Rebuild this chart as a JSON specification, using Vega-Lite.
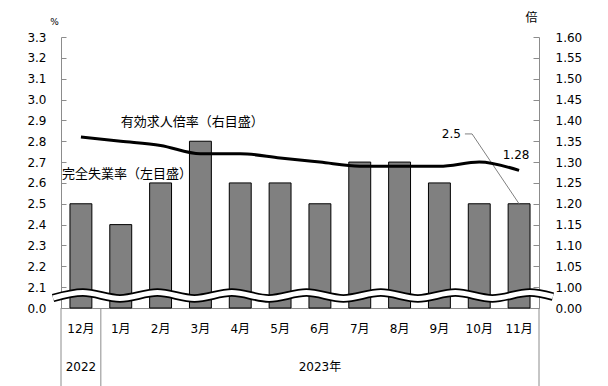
{
  "$schema": "https://vega.github.io/schema/vega-lite/v6.json",
  "width": 478,
  "height": 271,
  "autosize": {"type": "none"},
  "padding": {"left": 61, "top": 37, "right": 69, "bottom": 78},
  "background": "white",
  "config": {
    "view": {"stroke": null},
    "font": "DejaVu Sans, Noto Sans CJK JP",
    "axis": {
      "labelFont": "DejaVu Sans, Noto Sans CJK JP",
      "labelFontSize": 12,
      "labelColor": "#000",
      "domainColor": "#8c8c8c",
      "tickColor": "#8c8c8c",
      "grid": false,
      "titleFont": "DejaVu Sans, Noto Sans CJK JP",
      "titleFontWeight": "normal",
      "titleColor": "#000"
    },
    "text": {"font": "DejaVu Sans, Noto Sans CJK JP", "fontSize": 12, "color": "#000"}
  },
  "datasets": {
    "main": [
      {"month": "12月", "rate": 2.5, "ratio": 1.36},
      {"month": "1月", "rate": 2.4, "ratio": 1.35},
      {"month": "2月", "rate": 2.6, "ratio": 1.34},
      {"month": "3月", "rate": 2.8, "ratio": 1.32},
      {"month": "4月", "rate": 2.6, "ratio": 1.32},
      {"month": "5月", "rate": 2.6, "ratio": 1.31},
      {"month": "6月", "rate": 2.5, "ratio": 1.30},
      {"month": "7月", "rate": 2.7, "ratio": 1.29},
      {"month": "8月", "rate": 2.7, "ratio": 1.29},
      {"month": "9月", "rate": 2.6, "ratio": 1.29},
      {"month": "10月", "rate": 2.5, "ratio": 1.30},
      {"month": "11月", "rate": 2.5, "ratio": 1.28}
    ],
    "wave": [
      {"x": -0.70, "y": 2.048},
      {"x": 0.05, "y": 2.074},
      {"x": 0.98, "y": 2.046},
      {"x": 1.92, "y": 2.074},
      {"x": 2.85, "y": 2.046},
      {"x": 3.79, "y": 2.074},
      {"x": 4.72, "y": 2.046},
      {"x": 5.66, "y": 2.074},
      {"x": 6.59, "y": 2.046},
      {"x": 7.53, "y": 2.074},
      {"x": 8.46, "y": 2.046},
      {"x": 9.40, "y": 2.074},
      {"x": 10.33, "y": 2.046},
      {"x": 11.27, "y": 2.074},
      {"x": 11.85, "y": 2.055}
    ],
    "leader": [
      {"x": 9.64, "y": 2.835},
      {"x": 9.82, "y": 2.835},
      {"x": 11.0, "y": 2.5}
    ]
  },
  "resolve": {"scale": {"x": "independent", "y": "independent"}},
  "layer": [
    {
      "data": {"name": "main"},
      "mark": {"type": "bar", "fill": "#808080", "stroke": "#000", "strokeWidth": 1, "width": {"band": 0.55}},
      "encoding": {
        "x": {
          "field": "month", "type": "nominal",
          "scale": {"domain": ["12月","1月","2月","3月","4月","5月","6月","7月","8月","9月","10月","11月"], "paddingInner": 0, "paddingOuter": 0},
          "axis": {"orient": "bottom", "title": null, "ticks": false, "labelAngle": 0, "labelPadding": 15, "labelBaseline": "top"}
        },
        "y": {
          "field": "rate", "type": "quantitative",
          "scale": {"domain": [2.0, 3.3], "nice": false, "zero": false},
          "axis": {
            "orient": "left",
            "values": [2.0, 2.1, 2.2, 2.3, 2.4, 2.5, 2.6, 2.7, 2.8, 2.9, 3.0, 3.1, 3.2, 3.3],
            "labelExpr": "datum.value < 2.05 ? '0.0' : format(datum.value, '.1f')",
            "tickSize": -5,
            "labelPadding": 20,
            "title": "%",
            "titleAngle": 0,
            "titleX": -7,
            "titleY": -16,
            "titleFontSize": 9,
            "titleAlign": "center",
            "titleBaseline": "middle"
          }
        },
        "y2": {"datum": 2.0}
      }
    },
    {
      "data": {"values": [{}]},
      "mark": {"type": "rule", "color": "#8c8c8c", "strokeWidth": 1},
      "encoding": {
        "x": {"datum": "12月", "type": "nominal", "bandPosition": 0,
          "scale": {"domain": ["12月","1月","2月","3月","4月","5月","6月","7月","8月","9月","10月","11月"], "paddingInner": 0, "paddingOuter": 0}, "axis": null},
        "y": {"datum": 2.0, "type": "quantitative", "scale": {"domain": [2.0, 3.3], "nice": false, "zero": false}, "axis": null},
        "y2": {"datum": 1.62}
      }
    },
    {
      "data": {"values": [{}]},
      "mark": {"type": "rule", "color": "#8c8c8c", "strokeWidth": 1},
      "encoding": {
        "x": {"datum": "12月", "type": "nominal", "bandPosition": 1,
          "scale": {"domain": ["12月","1月","2月","3月","4月","5月","6月","7月","8月","9月","10月","11月"], "paddingInner": 0, "paddingOuter": 0}, "axis": null},
        "y": {"datum": 2.0, "type": "quantitative", "scale": {"domain": [2.0, 3.3], "nice": false, "zero": false}, "axis": null},
        "y2": {"datum": 1.62}
      }
    },
    {
      "data": {"values": [{}]},
      "mark": {"type": "rule", "color": "#8c8c8c", "strokeWidth": 1},
      "encoding": {
        "x": {"datum": "11月", "type": "nominal", "bandPosition": 1,
          "scale": {"domain": ["12月","1月","2月","3月","4月","5月","6月","7月","8月","9月","10月","11月"], "paddingInner": 0, "paddingOuter": 0}, "axis": null},
        "y": {"datum": 2.0, "type": "quantitative", "scale": {"domain": [2.0, 3.3], "nice": false, "zero": false}, "axis": null},
        "y2": {"datum": 1.62}
      }
    },
    {
      "data": {"values": [{"label": "2022", "month": "12月"}, {"label": "2023年", "month": "6月"}]},
      "mark": {"type": "text", "align": "center", "baseline": "middle"},
      "encoding": {
        "x": {"field": "month", "type": "nominal",
          "scale": {"domain": ["12月","1月","2月","3月","4月","5月","6月","7月","8月","9月","10月","11月"], "paddingInner": 0, "paddingOuter": 0}, "axis": null},
        "y": {"datum": 1.715, "type": "quantitative", "scale": {"domain": [2.0, 3.3], "nice": false, "zero": false}, "axis": null},
        "text": {"field": "label"}
      }
    },
    {
      "data": {"values": [{"label": "有効求人倍率（右目盛）", "month": "1月", "pos": 2.892}]},
      "mark": {"type": "text", "align": "left", "baseline": "middle", "dx": 0, "fontSize": 13},
      "encoding": {
        "x": {"field": "month", "type": "nominal",
          "scale": {"domain": ["12月","1月","2月","3月","4月","5月","6月","7月","8月","9月","10月","11月"], "paddingInner": 0, "paddingOuter": 0}, "axis": null},
        "y": {"field": "pos", "type": "quantitative", "scale": {"domain": [2.0, 3.3], "nice": false, "zero": false}, "axis": null},
        "text": {"field": "label"}
      }
    },
    {
      "data": {"values": [{"label": "完全失業率（左目盛）", "month": "12月", "pos": 2.643}]},
      "mark": {"type": "text", "align": "left", "baseline": "middle", "dx": -19, "fontSize": 13},
      "encoding": {
        "x": {"field": "month", "type": "nominal",
          "scale": {"domain": ["12月","1月","2月","3月","4月","5月","6月","7月","8月","9月","10月","11月"], "paddingInner": 0, "paddingOuter": 0}, "axis": null},
        "y": {"field": "pos", "type": "quantitative", "scale": {"domain": [2.0, 3.3], "nice": false, "zero": false}, "axis": null},
        "text": {"field": "label"}
      }
    },
    {
      "data": {"name": "leader"},
      "mark": {"type": "line", "color": "#808080", "strokeWidth": 1},
      "encoding": {
        "x": {"field": "x", "type": "quantitative", "scale": {"domain": [-0.5, 11.5], "nice": false, "zero": false}, "axis": null},
        "y": {"field": "y", "type": "quantitative", "scale": {"domain": [2.0, 3.3], "nice": false, "zero": false}, "axis": null}
      }
    },
    {
      "data": {"values": [{"label": "2.5", "x": 9.54, "y": 2.835}]},
      "mark": {"type": "text", "align": "right", "baseline": "middle"},
      "encoding": {
        "x": {"field": "x", "type": "quantitative", "scale": {"domain": [-0.5, 11.5], "nice": false, "zero": false}, "axis": null},
        "y": {"field": "y", "type": "quantitative", "scale": {"domain": [2.0, 3.3], "nice": false, "zero": false}, "axis": null},
        "text": {"field": "label"}
      }
    },
    {
      "data": {"name": "main"},
      "mark": {"type": "line", "color": "#000", "strokeWidth": 3, "interpolate": "monotone"},
      "encoding": {
        "x": {"field": "month", "type": "nominal",
          "scale": {"domain": ["12月","1月","2月","3月","4月","5月","6月","7月","8月","9月","10月","11月"], "paddingInner": 0, "paddingOuter": 0}, "axis": null},
        "y": {
          "field": "ratio", "type": "quantitative",
          "scale": {"domain": [0.95, 1.6], "nice": false, "zero": false},
          "axis": {
            "orient": "right",
            "values": [0.95, 1.0, 1.05, 1.1, 1.15, 1.2, 1.25, 1.3, 1.35, 1.4, 1.45, 1.5, 1.55, 1.6],
            "labelExpr": "datum.value < 0.97 ? '0.00' : format(datum.value, '.2f')",
            "tickSize": -6,
            "labelPadding": 22,
            "title": "倍",
            "titleAngle": 0,
            "titleX": -8,
            "titleY": -20,
            "titleFontSize": 12,
            "titleAlign": "center",
            "titleBaseline": "middle"
          }
        }
      }
    },
    {
      "data": {"name": "main"},
      "transform": [{"filter": "datum.month === '11月'"}],
      "mark": {"type": "text", "align": "center", "baseline": "middle", "dx": -3, "dy": -15},
      "encoding": {
        "x": {"field": "month", "type": "nominal",
          "scale": {"domain": ["12月","1月","2月","3月","4月","5月","6月","7月","8月","9月","10月","11月"], "paddingInner": 0, "paddingOuter": 0}, "axis": null},
        "y": {"field": "ratio", "type": "quantitative", "scale": {"domain": [0.95, 1.6], "nice": false, "zero": false}, "axis": null},
        "text": {"field": "ratio", "format": ".2f"}
      }
    },
    {
      "data": {"name": "wave"},
      "mark": {"type": "line", "color": "#000", "strokeWidth": 8.5, "interpolate": "monotone"},
      "encoding": {
        "x": {"field": "x", "type": "quantitative", "scale": {"domain": [-0.5, 11.5], "nice": false, "zero": false}, "axis": null},
        "y": {"field": "y", "type": "quantitative", "scale": {"domain": [2.0, 3.3], "nice": false, "zero": false}, "axis": null}
      }
    },
    {
      "data": {"name": "wave"},
      "mark": {"type": "line", "color": "#fff", "strokeWidth": 5, "interpolate": "monotone"},
      "encoding": {
        "x": {"field": "x", "type": "quantitative", "scale": {"domain": [-0.5, 11.5], "nice": false, "zero": false}, "axis": null},
        "y": {"field": "y", "type": "quantitative", "scale": {"domain": [2.0, 3.3], "nice": false, "zero": false}, "axis": null}
      }
    }
  ]
}
